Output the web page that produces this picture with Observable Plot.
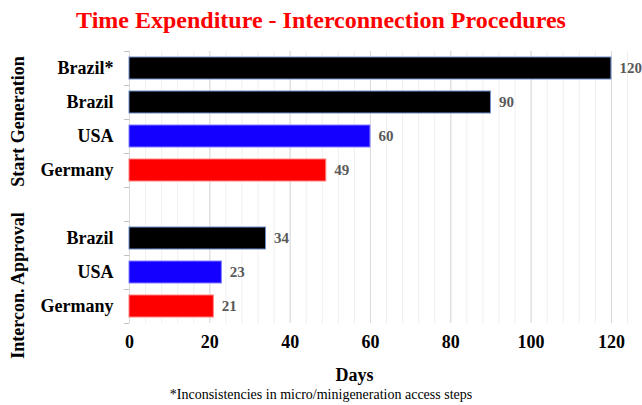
<!DOCTYPE html>
<html><head><meta charset="utf-8">
<script src="https://cdn.jsdelivr.net/npm/d3@7"></script>
<script src="https://cdn.jsdelivr.net/npm/@observablehq/plot@0.6"></script>
<style>
body{margin:0;background:#fff;font-family:"Liberation Serif","Times New Roman",serif;}
#title{height:40px;line-height:40px;text-align:center;color:#ff0000;font-weight:bold;font-size:24px;}
#chart{height:345px;}
#cap{height:20px;line-height:20px;text-align:center;font-size:14px;color:#000;}
</style></head><body>
<div id="title">Time Expenditure - Interconnection Procedures</div>
<div id="chart"></div>
<div id="cap">*Inconsistencies in micro/minigeneration access steps</div>
<script>
const keys = ["sg_brazil_star","sg_brazil","sg_usa","sg_germany","gap","ia_brazil","ia_usa","ia_germany"];
const labels = ["Brazil*","Brazil","USA","Germany","","Brazil","USA","Germany"];
const days = [120,90,60,49,null,34,23,21];
const colors = ["#000000","#000000","#1400ff","#ff0000",null,"#000000","#1400ff","#ff0000"];
const groups = ["Start Generation","Intercon. Approval"];
const groupAnchor = ["sg_brazil","ia_usa"];
const xTicks = [0,20,40,60,80,100,120];
const minorTicks = d3.range(0,125,4);

const data = keys.map((k,i)=>({key:k, label:labels[i], value:days[i], color:colors[i]})).filter(d=>d.value!=null);
const serif = "Liberation Serif";

const groupMark = (i, shiftDown) => Plot.text([{name: groups[i], key: groupAnchor[i]}], {
  y: "key", text: "name", frameAnchor: "left",
  dx: -111, dy: shiftDown,
  rotate: -90, fontSize: 18, fontWeight: "bold", fill: "#000", lineAnchor: "middle", textAnchor: "middle"
});

const chart = Plot.plot({
  width: 642,
  height: 345,
  marginLeft: 129,
  marginRight: 15,
  marginTop: 11,
  marginBottom: 62,
  style: {fontFamily: serif, background: "#fff"},
  x: {domain: [0,124]},
  y: {domain: keys, paddingInner: 0.35, paddingOuter: 0.175},
  color: {type: "identity"},
  marks: [
    Plot.ruleX(minorTicks, {stroke: "#efefef"}),
    Plot.ruleX(xTicks, {stroke: "#d9d9d9"}),
    Plot.ruleY(keys, {y: d=>d, x1: -1.2, x2: 0, dy: -17, stroke: "#bfbfbf"}),
    Plot.ruleY([keys[keys.length-1]], {y: d=>d, x1: -1.2, x2: 0, dy: 17, stroke: "#bfbfbf"}),
    Plot.barX(data, {x: "value", y: "key", fill: "color",
      stroke: d => d.color === "#000000" ? "#6d8fca" : (d.color === "#ff0000" ? "#ff8080" : "#8080ff"),
      strokeWidth: 1}),
    Plot.text(data, {x: "value", y: "key", text: d => String(d.value), textAnchor: "start", dx: 8,
      fill: "#595959", fontWeight: "bold", fontSize: 15}),
    Plot.axisY({tickSize: 0, tickPadding: 16, tickFormat: k => labels[keys.indexOf(k)],
      fontSize: 18, fontWeight: "bold", fill: "#000", label: null}),
    Plot.axisX({ticks: xTicks, tickSize: 0, tickPadding: 12, tickFormat: d => String(d),
      fontSize: 18, fontWeight: "bold", fill: "#000", label: null}),
    Plot.text(["Days"], {frameAnchor: "bottom", dx: -24, dy: 52, lineAnchor: "middle",
      fontSize: 18, fontWeight: "bold", fill: "#000"}),
    groupMark(0, 19),
    groupMark(1, 13)
  ]
});
document.getElementById("chart").append(chart);
</script>
</body></html>
